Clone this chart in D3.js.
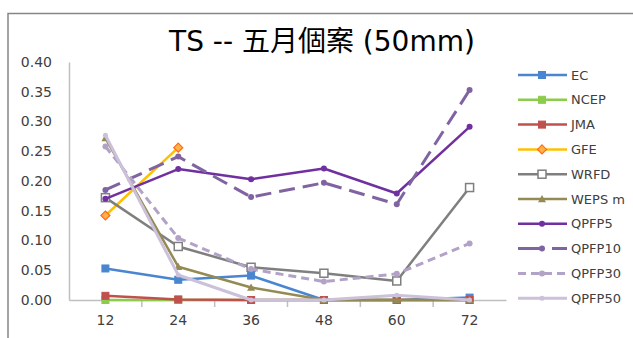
<!DOCTYPE html>
<html>
<head>
<meta charset="utf-8">
<script src="https://cdn.jsdelivr.net/npm/d3@7/dist/d3.min.js"></script>
<style>
  html, body { margin: 0; padding: 0; background: #fff; }
  svg { display: block; }
</style>
</head>
<body>
<script>
// Forecast lead times (hours)
const categories = ["12", "24", "36", "48", "60", "72"];
const yTicks = [0, 0.05, 0.10, 0.15, 0.20, 0.25, 0.30, 0.35, 0.40];

// TS scores per model
const EC     = [0.053, 0.034, 0.041, 0, 0, 0.004];
const NCEP   = [0, 0, 0, 0, 0, 0];
const JMA    = [0.007, 0.001, 0, 0, 0, 0];
const GFE    = [0.142, 0.256, null, null, null, null];
const WRFD   = [0.172, 0.090, 0.055, 0.045, 0.032, 0.189];
const WEPSm  = [0.272, 0.056, 0.021, 0, 0, 0];
const QPFP5  = [0.170, 0.220, 0.203, 0.221, 0.179, 0.291];
const QPFP10 = [0.185, 0.241, 0.173, 0.197, 0.161, 0.353];
const QPFP30 = [0.258, 0.104, 0.052, 0.031, 0.044, 0.095];
const QPFP50 = [0.277, 0.042, 0, 0, 0.008, 0];

const seriesNames = ["EC", "NCEP", "JMA", "GFE", "WRFD", "WEPS m", "QPFP5", "QPFP10", "QPFP30", "QPFP50"];
const seriesValues = [EC, NCEP, JMA, GFE, WRFD, WEPSm, QPFP5, QPFP10, QPFP30, QPFP50];

const styles = {
  "EC":     { color: "#4A86CF", width: 2.5, dash: null,  marker: "square",  size: 7, fill: "#4A86CF" },
  "NCEP":   { color: "#8CCB4C", width: 2.5, dash: null,  marker: "square",  size: 7, fill: "#8CCB4C" },
  "JMA":    { color: "#C0504D", width: 2.5, dash: null,  marker: "square",  size: 7, fill: "#C0504D" },
  "GFE":    { color: "#FFC000", width: 2.5, dash: null,  marker: "diamond", size: 9, fill: "#FFB347", stroke: "#FF6A1A" },
  "WRFD":   { color: "#7F7F7F", width: 2.5, dash: null,  marker: "open",    size: 8, fill: "#ffffff" },
  "WEPS m": { color: "#948A54", width: 2.5, dash: null,  marker: "triangle",size: 8, fill: "#948A54" },
  "QPFP5":  { color: "#7030A0", width: 2.5, dash: null,  marker: "circle",  size: 6, fill: "#7030A0" },
  "QPFP10": { color: "#8064A2", width: 3,   dash: "16,8",marker: "circle",  size: 6, fill: "#8064A2" },
  "QPFP30": { color: "#B3A2C7", width: 3,   dash: "8,5", marker: "circle",  size: 6, fill: "#B3A2C7" },
  "QPFP50": { color: "#CCC1DA", width: 3,   dash: null,  marker: "circle",  size: 5, fill: "#CCC1DA" }
};

const W = 633, H = 338;
const plot = { left: 69, right: 506, top: 62, bottom: 300 };
const font = "'DejaVu Sans', 'Noto Sans CJK TC', sans-serif";

const svg = d3.select("body").append("svg").attr("width", W).attr("height", H);

// chart frame (continues past the right and bottom edges)
svg.append("path")
  .attr("d", `M8,${H + 2} L8,13.5 L${W + 2},13.5`)
  .attr("fill", "none").attr("stroke", "#868686").attr("stroke-width", 1.5);

// title
svg.append("text")
  .attr("x", 322).attr("y", 51)
  .attr("text-anchor", "middle")
  .attr("font-family", font).attr("font-size", 28)
  .attr("fill", "#000")
  .text("TS -- 五月個案 (50mm)");

const x = d3.scaleBand().domain(categories).range([plot.left, plot.right]).padding(0);
const y = d3.scaleLinear().domain([0, 0.40]).range([plot.bottom, plot.top]);

// y axis
const yAxis = d3.axisLeft(y).tickValues(yTicks).tickFormat(d3.format(".2f")).tickSize(0).tickPadding(17);
const gy = svg.append("g").attr("transform", `translate(${plot.left},0)`).call(yAxis);
gy.select(".domain").attr("stroke", "#BFBFBF").attr("stroke-width", 1.5);
gy.selectAll("text").attr("font-family", font).attr("font-size", 14).attr("fill", "#404040");

// x axis with ticks on category boundaries
const xAxis = d3.axisBottom(x).tickSize(0).tickPadding(15);
const gx = svg.append("g").attr("transform", `translate(0,${plot.bottom})`).call(xAxis);
gx.select(".domain").attr("stroke", "#BFBFBF").attr("stroke-width", 1.5);
gx.selectAll("text").attr("font-family", font).attr("font-size", 14).attr("fill", "#404040");
gx.selectAll(".bound")
  .data(categories.slice(1))
  .enter().append("line")
  .attr("class", "bound")
  .attr("x1", d => x(d)).attr("x2", d => x(d))
  .attr("y1", 0).attr("y2", 7)
  .attr("stroke", "#BFBFBF").attr("stroke-width", 1.5);

function drawMarker(g, type, s, st) {
  const h = s / 2;
  if (type === "square") {
    g.append("rect").attr("x", -h).attr("y", -h).attr("width", s).attr("height", s)
      .attr("fill", st.fill).attr("stroke", st.color).attr("stroke-width", 1);
  } else if (type === "open") {
    g.append("rect").attr("x", -h).attr("y", -h).attr("width", s).attr("height", s)
      .attr("fill", st.fill).attr("stroke", st.color).attr("stroke-width", 1.5);
  } else if (type === "diamond") {
    g.append("path").attr("d", `M0,${-h} L${h},0 L0,${h} L${-h},0 Z`)
      .attr("fill", st.fill).attr("stroke", st.stroke).attr("stroke-width", 1.2);
  } else if (type === "triangle") {
    g.append("path").attr("d", `M0,${-h} L${h},${h * 0.8} L${-h},${h * 0.8} Z`)
      .attr("fill", st.fill);
  } else {
    g.append("circle").attr("r", h).attr("fill", st.fill);
  }
}

const line = d3.line()
  .defined(d => d != null)
  .x((d, i) => x(categories[i]) + x.bandwidth() / 2)
  .y(d => y(d));

seriesNames.forEach((name, si) => {
  const vals = seriesValues[si];
  const st = styles[name];
  const g = svg.append("g");
  g.append("path")
    .datum(vals)
    .attr("d", line)
    .attr("fill", "none")
    .attr("stroke", st.color)
    .attr("stroke-width", st.width)
    .attr("stroke-linejoin", "round")
    .attr("stroke-dasharray", st.dash);
  vals.forEach((v, i) => {
    if (v == null) return;
    const m = g.append("g").attr("transform",
      `translate(${x(categories[i]) + x.bandwidth() / 2},${y(v)})`);
    drawMarker(m, st.marker, st.size, st);
  });
});

// legend
const legend = svg.append("g");
seriesNames.forEach((name, i) => {
  const st = styles[name];
  const ly = 75 + i * 24.8;
  const g = legend.append("g").attr("transform", `translate(0,${ly})`);
  g.append("line").attr("x1", 518).attr("x2", 567).attr("y1", 0).attr("y2", 0)
    .attr("stroke", st.color).attr("stroke-width", st.width)
    .attr("stroke-dasharray", st.dash ? (name === "QPFP10" ? "26,8" : "8,5") : null);
  const m = g.append("g").attr("transform", "translate(542,0)");
  drawMarker(m, st.marker, st.size, st);
  g.append("text").attr("x", 571).attr("y", 4.5)
    .attr("font-family", font).attr("font-size", 13).attr("fill", "#404040")
    .text(name);
});
</script>
</body>
</html>
